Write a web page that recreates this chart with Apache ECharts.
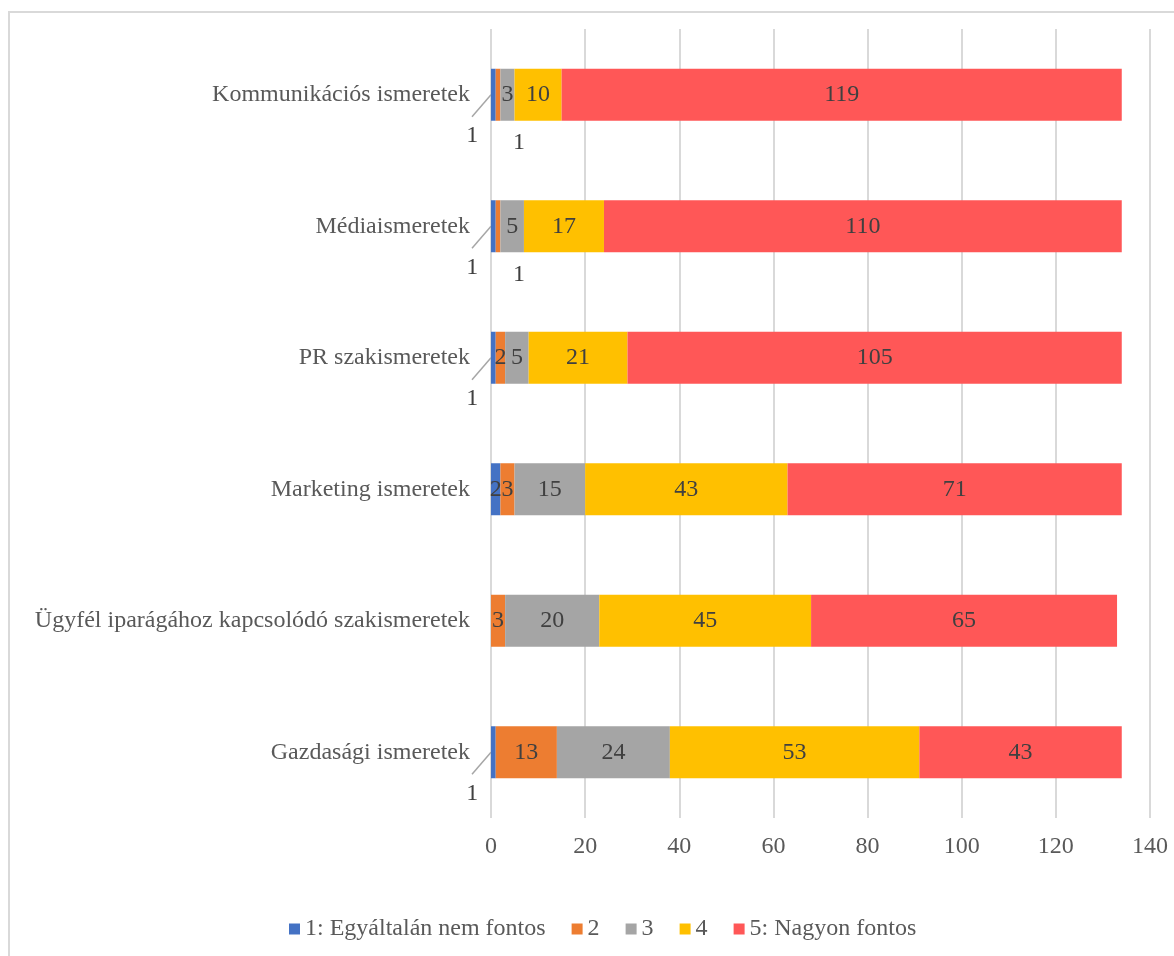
<!DOCTYPE html>
<html>
<head>
<meta charset="utf-8">
<script src="https://cdn.jsdelivr.net/npm/echarts@6/dist/echarts.min.js"></script>
<style>
  html, body { margin: 0; padding: 0; background: #fff; }
  #frame { position: absolute; left: 8px; top: 11px; width: 1200px; height: 1000px; border: 2px solid #d9d9d9; box-sizing: border-box; }
  #chart { position: absolute; left: 0; top: 0; width: 1174px; height: 956px; }
</style>
</head>
<body>
<div id="frame"></div>
<div id="chart"></div>
<script>
// kategóriák felülről lefelé
var categories = ['Kommunikációs ismeretek', 'Médiaismeretek', 'PR szakismeretek', 'Marketing ismeretek', 'Ügyfél iparágához kapcsolódó szakismeretek', 'Gazdasági ismeretek']
var seriesNames = ['1: Egyáltalán nem fontos', '2', '3', '4', '5: Nagyon fontos']
var v1 = [1, 1, 1, 2, 0, 1]
var v2 = [1, 1, 2, 3, 3, 13]
var v3 = [3, 5, 5, 15, 20, 24]
var v4 = [10, 17, 21, 43, 45, 53]
var v5 = [119, 110, 105, 71, 65, 43]
var xTicks = [0, 20, 40, 60, 80, 100, 120, 140]
var colors = ['#4472C4', '#ED7D31', '#A5A5A5', '#FFC000', '#FF5757']

var allValues = [v1, v2, v3, v4, v5]
var chart = echarts.init(document.getElementById('chart'))

var series = allValues.map(function (vals, i) {
  return {
    name: seriesNames[i],
    type: 'bar',
    stack: 'all',
    barWidth: 52,
    itemStyle: { color: colors[i] },
    data: vals,
    label: {
      show: true,
      position: 'inside',
      color: '#404040',
      fontFamily: 'Liberation Serif',
      fontSize: 24,
      formatter: function (p) { return p.value === 0 ? '' : String(p.value) }
    },
    // az 1-es értékek címkéje kikerül a sávon kívülre
    labelLayout: function (p) {
      var v = vals[p.dataIndex]
      if (v !== 1) return {}
      if (i === 0) return { dx: -21, dy: 41 }
      if (i === 1) return { dx: 21, dy: 48 }
      return {}
    }
  }
})

// vezetővonalak az első sorozat kihelyezett címkéihez
var leaderData = []
v1.forEach(function (v, idx) { if (v === 1) leaderData.push([0, idx]) })
series.push({
  name: 'leader',
  type: 'custom',
  silent: true,
  data: leaderData,
  renderItem: function (params, api) {
    var p = api.coord([api.value(0), api.value(1)])
    return {
      type: 'line',
      shape: { x1: p[0], y1: p[1], x2: p[0] - 19, y2: p[1] + 22 },
      style: { stroke: '#a6a6a6', lineWidth: 1.5 }
    }
  }
})

chart.setOption({
  animation: false,
  textStyle: { fontFamily: 'Liberation Serif' },
  legend: {
    data: seriesNames,
    bottom: 10,
    left: 284,
    icon: 'rect',
    itemWidth: 11,
    itemHeight: 11,
    itemGap: 26,
    textStyle: { color: '#595959', fontSize: 24, fontFamily: 'Liberation Serif' }
  },
  grid: { left: 491, right: 24, top: 29, bottom: 138, containLabel: false },
  xAxis: {
    type: 'value',
    min: xTicks[0],
    max: xTicks[xTicks.length - 1],
    interval: 20,
    axisLine: { show: false },
    axisTick: { show: false },
    axisLabel: { color: '#595959', fontSize: 24, margin: 17, fontFamily: 'Liberation Serif' },
    splitLine: { show: true, lineStyle: { color: '#d9d9d9', width: 2 } }
  },
  yAxis: {
    type: 'category',
    inverse: true,
    data: categories,
    axisLine: { show: false },
    axisTick: { show: false },
    axisLabel: { color: '#595959', fontSize: 24, margin: 21, fontFamily: 'Liberation Serif' }
  },
  series: series
})
</script>
</body>
</html>
